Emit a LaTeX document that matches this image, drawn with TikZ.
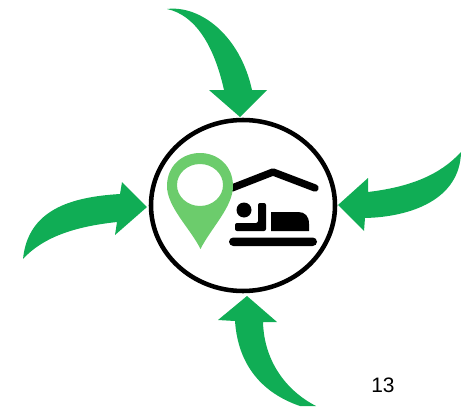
\documentclass[tikz,border=0pt]{standalone}
\usepackage{fontspec}
\setmainfont{Liberation Sans}
\definecolor{arrowgreen}{HTML}{10AD55}
\definecolor{pingreen}{HTML}{6CCC6C}
\tikzset{
    inflow/.style={fill=arrowgreen},
    icon/.style={fill=black},
    roofline/.style={draw=black, line width=5.5pt, line cap=round, line join=round}
}
\begin{document}
\begin{tikzpicture}[x=0.75pt, y=-0.75pt]
        \useasboundingbox (0, 0) rectangle (468, 407);
        % Ring
        \draw[black, line width=3.4pt] (243, 205.5) ellipse (92 and 85.5);
        % Top arrow
        \fill[inflow] (167, 9) .. controls (200, 5) and (240, 35) .. (252, 90)
            -- (267, 90) -- (240, 117) -- (209, 90) -- (224, 90)
            .. controls (214, 45) and (195, 15) .. cycle;
        % Left arrow
        \fill[inflow] (23, 259) .. controls (28, 210) and (70, 197) .. (120, 194)
            -- (122, 182) -- (147, 207) -- (115, 235) -- (117, 222)
            .. controls (80, 226) and (45, 235) .. cycle;
        % Right arrow
        \fill[inflow] (461, 152) .. controls (440, 175) and (410, 187) .. (368, 192)
            -- (368, 178) -- (338, 205) -- (364, 231) -- (365, 218)
            .. controls (410, 217) and (460, 200) .. cycle;
        % Bottom arrow
        \fill[inflow] (247, 296) -- (277, 322) -- (263, 322)
            .. controls (264, 360) and (285, 390) .. (316, 406)
            -- (300, 406) .. controls (262, 393) and (238, 365) .. (235, 321)
            -- (218, 320) -- cycle;
        % Roof
        \draw[roofline] (232, 188) -- (273, 172) -- (315, 188);
        % Sleeper
        \fill[icon] (244, 210) circle (7.5);
        \fill[icon, rounded corners=1.5pt] (235, 223) -- (258, 223) -- (258, 203) -- (266, 203)
            -- (266, 231) -- (235, 231) -- cycle;
        \fill[icon] (271, 231) -- (271, 212) -- (298, 212)
            .. controls (305, 212) and (309, 216) .. (309, 224) -- (309, 231) -- cycle;
        \fill[icon, rounded corners=3.2pt] (229, 237.5) rectangle (317, 246);
        % Map pin
        \fill[pingreen, even odd rule] (200.5, 249) .. controls (190, 228) and (167, 207) .. (167, 186)
            .. controls (167, 166) and (182, 153) .. (200, 153)
            .. controls (218, 153) and (233, 166) .. (233, 186)
            .. controls (233, 207) and (211, 228) .. (200.5, 249) -- cycle
            (200, 185) ellipse (23 and 21);
        % Page number
        \node[font=\fontsize{15.7pt}{18pt}\selectfont] (pagenum) at (383, 385) {13};
    \end{tikzpicture}
\end{document}
